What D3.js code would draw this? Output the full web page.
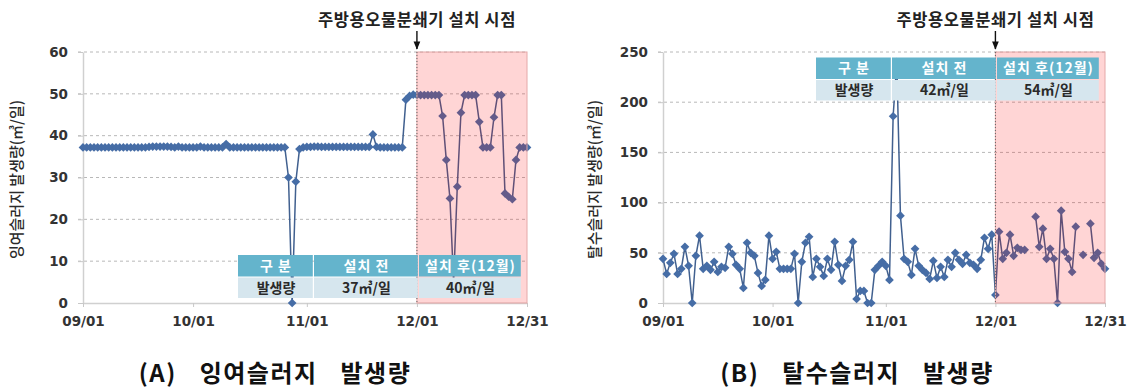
<!DOCTYPE html>
<html>
<head>
<meta charset="utf-8">
<script src="https://cdn.jsdelivr.net/npm/d3@7"></script>
<style>
  body { margin: 0; background: #fff; }
  text { font-family: "Noto Sans CJK KR", "Noto Sans", sans-serif; }
</style>
</head>
<body>
<svg id="chart" width="1134" height="390"></svg>
<script>
// 날짜 축 눈금
const tickLabels = ["09/01", "10/01", "11/01", "12/01", "12/31"];
const installDate = "12/01";

// (A) 잉여슬러지 발생량 (㎥/일), 월별 일자료
const excessSep = [37.2, 37.2, 37.2, 37.2, 37.2, 37.2, 37.2, 37.2, 37.2, 37.2,
  37.2, 37.2, 37.2, 37.2, 37.2, 37.2, 37.2, 37.2, 37.3, 37.4,
  37.4, 37.4, 37.4, 37.4, 37.3, 37.2, 37.4, 37.2, 37.2, 37.2];
const excessOct = [37.2, 37.2, 37.4, 37.2, 37.2, 37.2, 37.2, 37.2, 37.2, 38.0,
  37.2, 37.2, 37.2, 37.2, 37.2, 37.2, 37.2, 37.2, 37.2, 37.2,
  37.2, 37.2, 37.2, 37.2, 37.2, 37.2, 30.0, 0, 29.0, 36.8, 37.2];
const excessNov = [37.3, 37.3, 37.4, 37.4, 37.3, 37.3, 37.3, 37.3, 37.3, 37.3,
  37.3, 37.3, 37.3, 37.3, 37.3, 37.3, 37.3, 37.3, 40.3, 37.3,
  37.2, 37.2, 37.2, 37.2, 37.2, 37.2, 37.2, 48.6, 49.5, 49.8];
const excessDec = [49.7, 49.7, 49.7, 49.7, 49.7, 49.7, 49.7, 44.7, 34.2, 25.0,
  5, 27.8, 45.5, 49.7, 49.7, 49.7, 49.7, 43.3, 37.2, 37.2,
  37.2, 44.4, 49.7, 49.7, 26.2, 25.4, 24.8, 34.2, 37.2, 37.2, 37.2];

// (B) 탈수슬러지 발생량 (㎥/일), null = 자료 없음
const dewSep = [44, 29, 40, 49, 29, 34, 56, 37, 0, 47, 67, 34, 37, 33, 41,
  31, 36, 35, 56, 49, 38, 34, 15, 60, 50, 47, 30, 17, 23, 67];
const dewOct = [44, 51, 34, 34, 34, 34, 49, 0, 41, 60, 66, 26, 44, 36, 27, 44,
  33, 61, 38, 22, 37, 43, 61, 4, 12, 12, 0, 0, 33, 37, 41];
const dewNov = [37, 23, 186, 240, 87, 44, 41, 28, 54, 37, 33, 30, 24, 42, 25,
  36, 26, 43, 36, 50, 43, 39, 48, 40, 38, 34, 43, 65, 54, 68];
const dewDec = [8, 71, 44, 50, 68, 47, 55, 53, 53, null, null, 86, 56, 74, 44,
  54, 44, 0, 92, 51, 44, 31, 76, null, 48, null, 79, 45, 50, 39, 34];

// 표 내용
const tableHeader = ["구 분", "설치 전", "설치 후(12월)"];
const excessRow = ["발생량", "37㎥/일", "40㎥/일"];
const dewRow = ["발생량", "42㎥/일", "54㎥/일"];

const annotationText = "주방용오물분쇄기 설치 시점";

const parseDay = d3.timeParse("%Y/%m/%d");
const toDate = s => parseDay("2013/" + s);

function buildSeries(months) {
  const out = [];
  months.forEach(([m, vals]) => {
    vals.forEach((v, i) => out.push({ date: new Date(2013, m - 1, i + 1), v }));
  });
  return out;
}

const svg = d3.select("#chart");
svg.append("rect").attr("width", 1134).attr("height", 390).attr("fill", "#fff");

const defs = svg.append("defs");
defs.append("marker")
  .attr("id", "arrow")
  .attr("viewBox", "0 0 10 10")
  .attr("refX", 9).attr("refY", 5)
  .attr("markerWidth", 6).attr("markerHeight", 6)
  .attr("orient", "auto")
  .append("path")
  .attr("d", "M0,1 L10,5 L0,9 Z")
  .attr("fill", "#111");

function drawPanel(cfg) {
  const x = d3.scaleTime()
    .domain([toDate(tickLabels[0]), toDate(tickLabels[tickLabels.length - 1])])
    .range([cfg.left, cfg.right]);
  const y = d3.scaleLinear()
    .domain([0, cfg.yMax])
    .range([cfg.bottom, cfg.top]);

  const g = svg.append("g");

  // 보조 눈금선 (점선)
  g.append("g")
    .selectAll("line")
    .data(cfg.yTicks.filter(t => t > 0))
    .join("line")
    .attr("x1", cfg.left - 5)
    .attr("x2", cfg.right)
    .attr("y1", d => y(d))
    .attr("y2", d => y(d))
    .attr("stroke", "#b8b8b8")
    .attr("stroke-width", 1)
    .attr("stroke-dasharray", "3,3");

  // Y축
  const yAxis = g.append("g")
    .attr("transform", `translate(${cfg.left},0)`)
    .call(d3.axisLeft(y).tickValues(cfg.yTicks).tickSize(5).tickSizeOuter(0).tickPadding(10));
  yAxis.select(".domain").attr("stroke", "#d0d0d0").attr("stroke-width", 1.5);
  yAxis.selectAll(".tick line").attr("stroke", "#c8c8c8");
  yAxis.selectAll(".tick text")
    .style("font-family", "'DejaVu Sans', sans-serif")
    .style("font-weight", "bold")
    .style("font-size", "13.5px")
    .attr("fill", "#333");

  // X축
  const xAxis = g.append("g")
    .attr("transform", `translate(0,${cfg.bottom})`)
    .call(d3.axisBottom(x)
      .tickValues(tickLabels.map(toDate))
      .tickFormat(d3.timeFormat("%m/%d"))
      .tickSize(4).tickSizeOuter(0).tickPadding(9));
  xAxis.select(".domain").attr("stroke", "#d0d0d0").attr("stroke-width", 1.5);
  xAxis.selectAll(".tick line").attr("stroke", "#c8c8c8");
  xAxis.selectAll(".tick text")
    .style("font-family", "'DejaVu Sans', sans-serif")
    .style("font-weight", "bold")
    .style("font-size", "13.5px")
    .attr("fill", "#333");

  // Y축 제목
  g.append("text")
    .attr("transform", `translate(${cfg.titleX},${(cfg.top + cfg.bottom) / 2 + 2}) rotate(-90)`)
    .attr("text-anchor", "middle")
    .attr("dominant-baseline", "middle")
    .style("font-size", "15px")
    .style("font-weight", "500")
    .attr("fill", "#2a2a2a")
    .text(cfg.yTitle);

  // 계열: 선 + 마름모 표식
  const line = d3.line()
    .defined(d => d.v != null)
    .x(d => x(d.date))
    .y(d => y(d.v));

  g.append("path")
    .datum(cfg.series)
    .attr("fill", "none")
    .attr("stroke", "#41608f")
    .attr("stroke-width", 1.5)
    .attr("d", line);

  const diamond = d3.symbol().type(d3.symbolSquare).size(38);
  g.append("g")
    .selectAll("path")
    .data(cfg.series.filter(d => d.v != null))
    .join("path")
    .attr("d", diamond)
    .attr("transform", d => `translate(${x(d.date)},${y(d.v)}) rotate(45)`)
    .attr("fill", "#466da6");

  // 설치 이후 구간 음영
  const x0 = x(toDate(installDate));
  g.append("rect")
    .attr("x", x0)
    .attr("y", cfg.top)
    .attr("width", cfg.right - x0)
    .attr("height", cfg.bottom - cfg.top)
    .attr("fill", "rgb(255,0,0)")
    .attr("fill-opacity", 0.165)
    .attr("stroke", "#e4a8a8")
    .attr("stroke-width", 1);

  g.append("line")
    .attr("x1", x0).attr("x2", x0)
    .attr("y1", cfg.top).attr("y2", cfg.bottom)
    .attr("stroke", "#666")
    .attr("stroke-width", 1)
    .attr("stroke-dasharray", "1,2");

  // 설치 시점 주석
  g.append("text")
    .attr("x", x0)
    .attr("y", 26)
    .attr("text-anchor", "middle")
    .style("font-size", "16.5px")
    .style("font-weight", "bold")
    .style("letter-spacing", "0.6px")
    .attr("fill", "#222")
    .text(annotationText);

  g.append("line")
    .attr("x1", x0).attr("x2", x0)
    .attr("y1", 31).attr("y2", cfg.top - 3)
    .attr("stroke", "#111")
    .attr("stroke-width", 1.4)
    .attr("marker-end", "url(#arrow)");

  // 요약 표
  const colW = [76, 105, 103];
  const rowH = [21.5, 20.5];
  const tableW = d3.sum(colW);
  const tx = cfg.right - 5 - tableW;
  const colX = colW.map((w, i) => tx + d3.sum(colW.slice(0, i)));
  const tbl = g.append("g");
  [tableHeader, cfg.row].forEach((row, r) => {
    const ry = cfg.tableTop + (r === 0 ? 0 : rowH[0] + 1);
    row.forEach((cell, c) => {
      tbl.append("rect")
        .attr("x", colX[c])
        .attr("y", ry)
        .attr("width", colW[c] - 1.2)
        .attr("height", rowH[r])
        .attr("fill", r === 0 ? "#64b4cc" : "#d6e6ee");
      tbl.append("text")
        .attr("x", colX[c] + colW[c] / 2)
        .attr("y", ry + rowH[r] / 2 + 1)
        .attr("text-anchor", "middle")
        .attr("dominant-baseline", "middle")
        .style("font-size", "14px")
        .style("font-weight", "bold")
        .style("letter-spacing", r === 0 ? "1px" : "0px")
        .attr("fill", r === 0 ? "#fff" : "#2a2a2a")
        .text(cell);
    });
  });

  // 하단 제목
  g.append("text")
    .attr("x", cfg.captionX)
    .attr("y", 382)
    .attr("text-anchor", "middle")
    .style("font-size", "24px")
    .style("font-weight", "bold")
    .style("letter-spacing", "1.5px")
    .style("word-spacing", "16px")
    .attr("fill", "#111")
    .text(cfg.caption);
}

drawPanel({
  left: 83, right: 527, top: 52, bottom: 303,
  yMax: 60, yTicks: [0, 10, 20, 30, 40, 50, 60],
  series: buildSeries([[9, excessSep], [10, excessOct], [11, excessNov], [12, excessDec]]),
  yTitle: "잉여슬러지 발생량(㎥/일)", titleX: 18,
  row: excessRow, tableTop: 255,
  caption: "(A) 잉여슬러지 발생량", captionX: 275
});

drawPanel({
  left: 663, right: 1105, top: 52, bottom: 303,
  yMax: 250, yTicks: [0, 50, 100, 150, 200, 250],
  series: buildSeries([[9, dewSep], [10, dewOct], [11, dewNov], [12, dewDec]]),
  yTitle: "탈수슬러지 발생량(㎥/일)", titleX: 596,
  row: dewRow, tableTop: 57.5,
  caption: "(B) 탈수슬러지 발생량", captionX: 857
});
</script>
</body>
</html>
